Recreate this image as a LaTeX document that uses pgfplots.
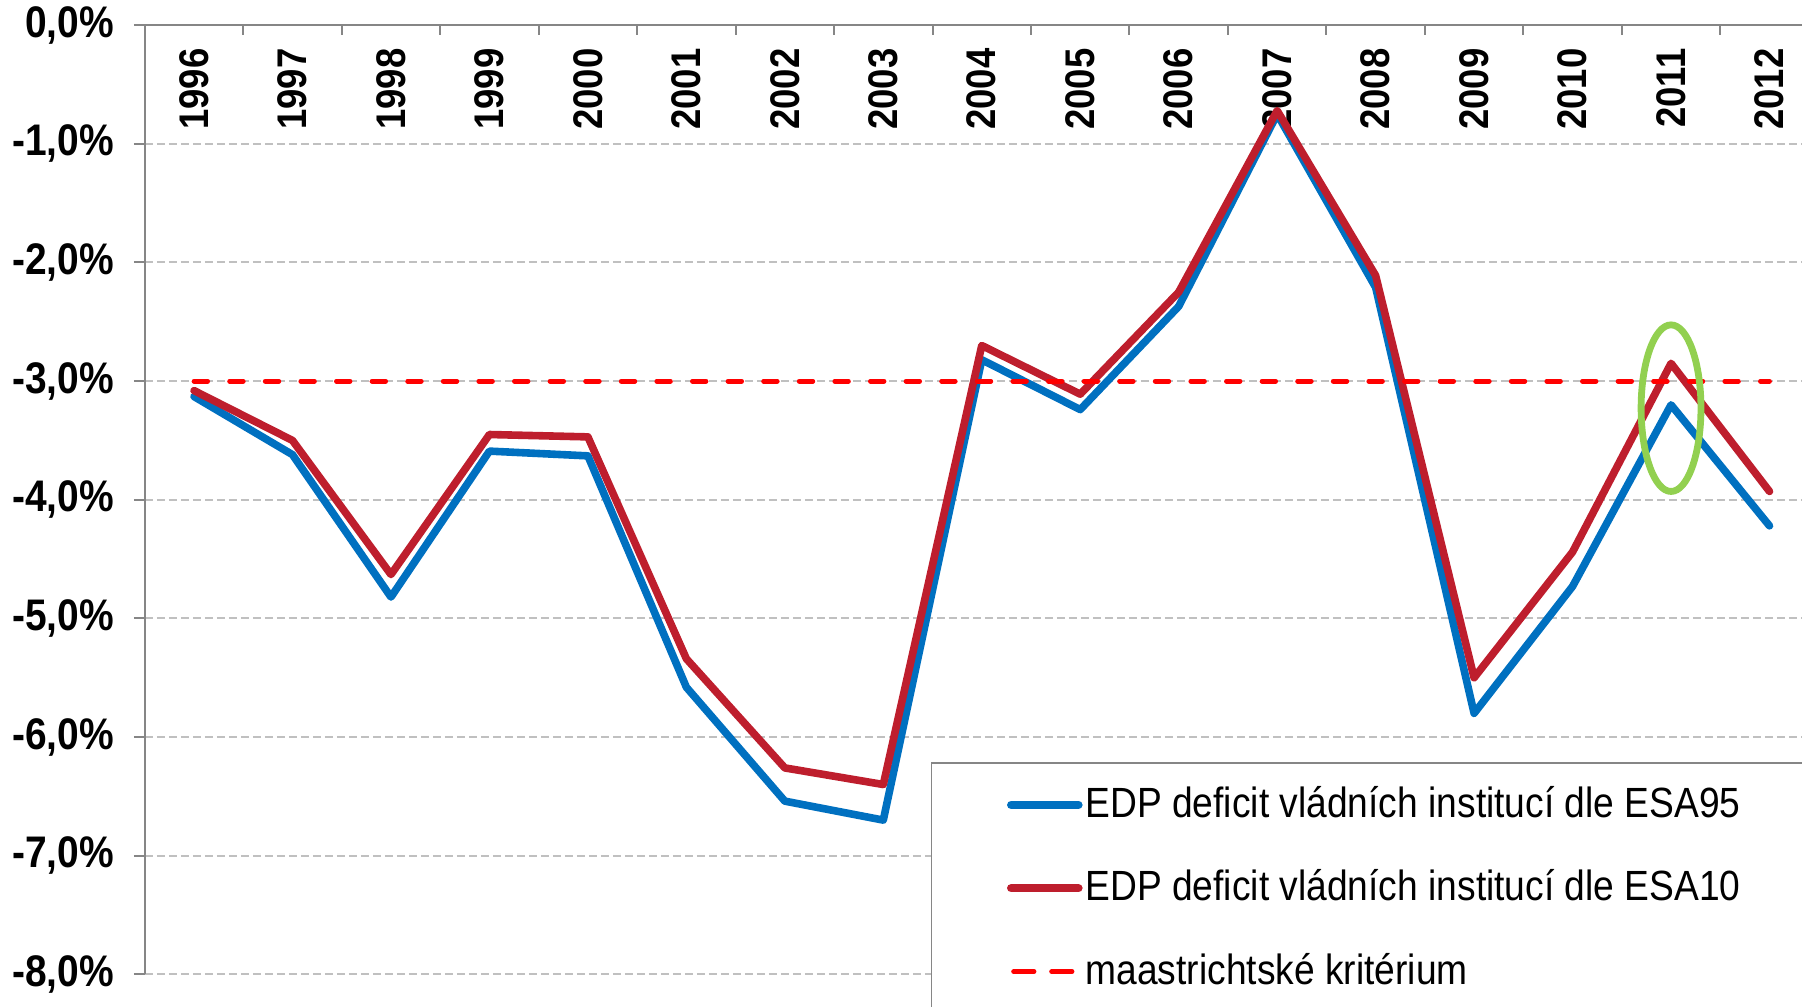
\documentclass[border=0pt]{standalone}
\usepackage{fontspec}
\setmainfont{Liberation Sans}[FakeStretch=0.88]
\usepackage{pgfplots}
\usepackage{pgfplotstable}
\pgfplotsset{compat=1.18}
\definecolor{esablue}{HTML}{0070C0}
\definecolor{esared}{HTML}{BE1E2D}
\definecolor{axgray}{HTML}{868686}
\definecolor{gridgray}{HTML}{C0C0C0}
\definecolor{ellgreen}{HTML}{92D050}

\pgfplotstableread{
year esa95 esa10
1996 -3.13 -3.08
1997 -3.62 -3.50
1998 -4.82 -4.63
1999 -3.59 -3.45
2000 -3.63 -3.47
2001 -5.58 -5.34
2002 -6.54 -6.26
2003 -6.70 -6.40
2004 -2.82 -2.70
2005 -3.24 -3.11
2006 -2.37 -2.25
2007 -0.75 -0.72
2008 -2.21 -2.11
2009 -5.80 -5.50
2010 -4.73 -4.44
2011 -3.20 -2.85
2012 -4.22 -3.93
}\datatab

\begin{document}
\begin{tikzpicture}
\begin{axis}[name=ax, scale only axis, width=414.3bp, height=237.3bp,
  xmin=1995.5, xmax=2012.33, ymin=-8, ymax=0,
  axis x line*=top, axis y line*=left,
  axis line style={axgray, line width=0.5bp},
  tick align=outside,
  xtick={1996,...,2012},
  xticklabels={1996,1997,1998,1999,2000,2001,2002,2003,2004,2005,2006,2007,2008,2009,2010,2011,2012},
  major x tick style={draw=none},
  minor xtick={1996.5,1997.5,...,2011.5},
  minor x tick style={axgray, line width=0.5bp, yshift=-2.5bp},
  minor tick length=2.5bp,
  major tick length=2.75bp,
  ytick={-8,-7,-6,-5,-4,-3,-2,-1,0},
  yticklabels={{-8,0\%},{-7,0\%},{-6,0\%},{-5,0\%},{-4,0\%},{-3,0\%},{-2,0\%},{-1,0\%},{0,0\%}},
  major y tick style={axgray, line width=0.5bp},
  ymajorgrids,
  major y grid style={gridgray, line width=0.5bp, dash pattern=on 2bp off 1bp},
  x tick label style={font=\bfseries\fontsize{10.4}{12}\selectfont, rotate=90, anchor=east},
  xticklabel shift=-5.1bp,
  y tick label style={font=\bfseries\fontsize{11.1}{13}\selectfont},
  yticklabel shift=1.5bp,
  legend style={at={(0.4743,0.2238)}, anchor=north west, draw=axgray, fill=white,
    inner xsep=19.9bp, inner ysep=3.9bp, row sep=7.6bp,
    font=\fontsize{10.6}{12}\selectfont},
  legend cell align=left,
  legend image code/.code={\path[draw=none,fill=none] (0bp,-0.85bp) rectangle (16.6bp,0.85bp);\draw[#1,overlay,line width=2.1bp] (0bp,0bp) -- (16.8bp,0bp);},
  clip=false,
]
\addplot[esablue, line width=1.9bp, line join=round, line cap=round] table[x=year,y=esa95]{\datatab};
\addlegendentry{EDP deficit vládních institucí dle ESA95}
\addplot[esared, line width=1.9bp, line join=round, line cap=round] table[x=year,y=esa10]{\datatab};
\addlegendentry{EDP deficit vládních institucí dle ESA10}
\addplot[red, line width=1.2bp, dash pattern=on 3.4bp off 5.5bp, line cap=round,
  legend image code/.code={\path[draw=none,fill=none] (0bp,-0.85bp) rectangle (16.6bp,0.85bp);\draw[red, line width=1.2bp, line cap=round, dash pattern=on 5.1bp off 4.4bp, overlay] (0.6bp,0bp) -- (16.4bp,0bp);}]
  coordinates {(1996,-3) (2012,-3)};
\addlegendentry{maastrichtské kritérium}
\draw[ellgreen, line width=1.7bp] (axis cs:2011,-3.228) ellipse [x radius=0.304, y radius=0.702];
\end{axis}
\pgfresetboundingbox
\useasboundingbox ([xshift=-36.2bp,yshift=-8.15bp]ax.south west) rectangle ([yshift=6.3bp]ax.north east);
\end{tikzpicture}
\end{document}
